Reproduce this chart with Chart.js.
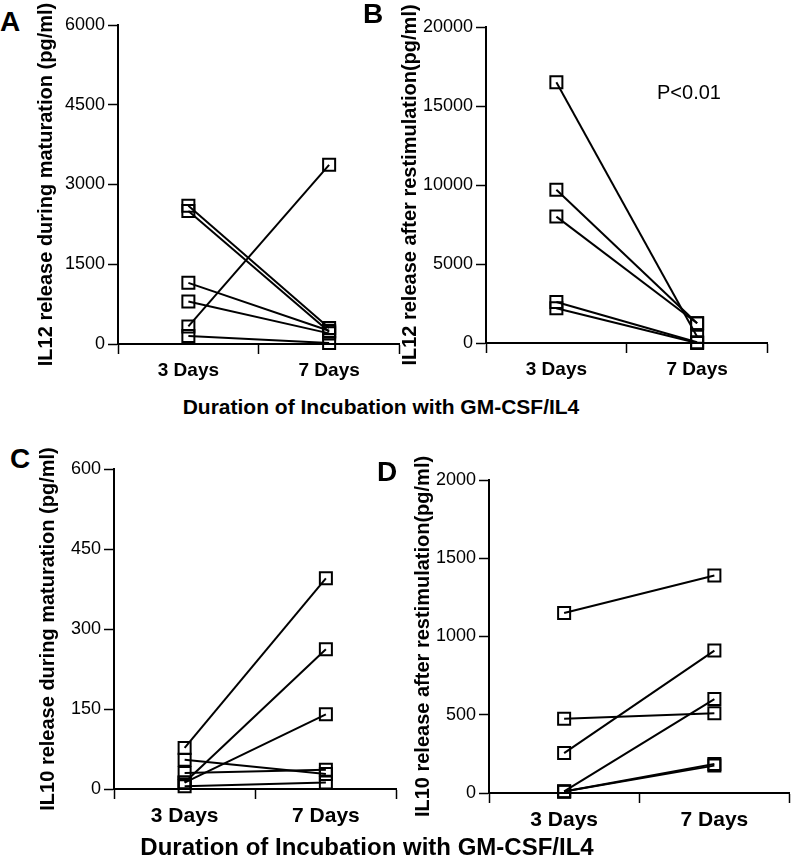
<!DOCTYPE html>
<html>
<head>
<meta charset="utf-8">
<script src="https://cdn.jsdelivr.net/npm/chart.js@4/dist/chart.umd.min.js"></script>
<style>
  body { margin: 0; background: #fff; }
  #wrap { position: relative; width: 800px; height: 867px; font-family: "Liberation Sans", Arial, sans-serif; color: #000; }
  canvas { position: absolute; }
  .letter { position: absolute; font-weight: bold; font-size: 28px; line-height: 28px; }
  .xtitle { position: absolute; left: 0; text-align: center; font-weight: bold; white-space: nowrap; }
  .note { position: absolute; font-size: 20px; line-height: 20px; }
</style>
</head>
<body>
<div id="wrap">
  <canvas id="chartA" width="380" height="385" style="left:30px;top:0px"></canvas>
  <canvas id="chartB" width="384" height="385" style="left:394px;top:0px"></canvas>
  <canvas id="chartC" width="375" height="394" style="left:32px;top:440px"></canvas>
  <canvas id="chartD" width="393" height="398" style="left:407px;top:440px"></canvas>

  <div class="letter" style="left:0px;top:8px">A</div>
  <div class="letter" style="left:363px;top:0px">B</div>
  <div class="letter" style="left:10px;top:445px">C</div>
  <div class="letter" style="left:377px;top:458px">D</div>

  <div class="note" style="left:657px;top:82px">P&lt;0.01</div>

  <div class="xtitle" style="width:762px;top:395px;font-size:21px;line-height:24px">Duration of Incubation with GM-CSF/IL4</div>
  <div class="xtitle" style="width:734px;top:833px;font-size:24px;line-height:28px">Duration of Incubation with GM-CSF/IL4</div>
</div>

<script>
const FONT = '"Liberation Sans", Arial, sans-serif';

const days = ['3 Days', '7 Days'];

// A - IL12 during maturation (pg/ml), paired donors
const il12MatDay3 = [2600, 2500, 1150, 800, 330, 150];
const il12MatDay7 = [300, 230, 250, 200, 3370, 20];
const il12MatTicks = [0, 1500, 3000, 4500, 6000];

// B - IL12 after restimulation (pg/ml)
const il12RestDay3 = [16500, 9700, 8000, 2600, 2200];
const il12RestDay7 = [400, 1250, 1250, 50, 0];
const il12RestTicks = [0, 5000, 10000, 15000, 20000];

// C - IL10 during maturation (pg/ml)
const il10MatDay3 = [77, 12, 12, 55, 30, 5];
const il10MatDay7 = [395, 262, 140, 28, 36, 12];
const il10MatTicks = [0, 150, 300, 450, 600];

// D - IL10 after restimulation (pg/ml)
const il10RestDay3 = [1150, 475, 255, 10, 10, 10];
const il10RestDay7 = [1390, 510, 910, 600, 185, 175];
const il10RestTicks = [0, 500, 1000, 1500, 2000];

function makePanel(id, day3, day7, ticks, yTitle, box) {
    const datasets = day3.map((v, i) => ({
        data: [v, day7[i]],
        borderColor: '#000',
        borderWidth: 2,
        pointStyle: 'rect',
        pointRadius: 8.5,
        pointBorderWidth: 2,
        pointBackgroundColor: 'rgba(0,0,0,0)',
        pointBorderColor: '#000',
        fill: false,
        tension: 0,
        clip: false
    }));

    return new Chart(document.getElementById(id), {
        type: 'line',
        data: { labels: days, datasets: datasets },
        options: {
            responsive: false,
            animation: false,
            events: [],
            layout: { padding: { top: box.top, right: box.right, bottom: 0, left: 0 } },
            plugins: {
                legend: { display: false },
                tooltip: { enabled: false }
            },
            scales: {
                x: {
                    type: 'category',
                    offset: true,
                    grid: { offset: true, drawOnChartArea: false, color: '#000', tickLength: 10, tickWidth: 1.5 },
                    border: { color: '#000', width: 2 },
                    ticks: { color: '#000', padding: 5, font: { family: FONT, size: box.xFont, weight: 'bold' } },
                    afterFit: s => { s.height = box.xHeight; }
                },
                y: {
                    min: ticks[0],
                    max: ticks[ticks.length - 1],
                    afterBuildTicks: s => { s.ticks = ticks.map(v => ({ value: v })); },
                    grid: { drawOnChartArea: false, color: '#000', tickLength: 10, tickWidth: 1.5 },
                    border: { color: '#000', width: 2 },
                    ticks: {
                        color: '#000',
                        padding: 3,
                        font: { family: FONT, size: 18 },
                        callback: v => String(v)
                    },
                    title: {
                        display: true,
                        text: yTitle,
                        color: '#000',
                        padding: { top: 4, bottom: 4 },
                        font: { family: FONT, size: 20, weight: 'bold' }
                    },
                    afterFit: s => { s.width = box.yWidth; }
                }
            }
        }
    });
}

makePanel('chartA', il12MatDay3, il12MatDay7, il12MatTicks,
    'IL12 release during maturation (pg/ml)',
    { top: 25, right: 5, yWidth: 88, xHeight: 41, xFont: 19 });

makePanel('chartB', il12RestDay3, il12RestDay7, il12RestTicks,
    'IL12 release after restimulation(pg/ml)',
    { top: 27, right: 5, yWidth: 92, xHeight: 42, xFont: 19 });

makePanel('chartC', il10MatDay3, il10MatDay7, il10MatTicks,
    'IL10 release during maturation (pg/ml)',
    { top: 29, right: 5, yWidth: 82, xHeight: 45, xFont: 21 });

makePanel('chartD', il10RestDay3, il10RestDay7, il10RestTicks,
    'IL10 release after restimulation(pg/ml)',
    { top: 40, right: 3, yWidth: 82, xHeight: 45, xFont: 21 });
</script>
</body>
</html>
